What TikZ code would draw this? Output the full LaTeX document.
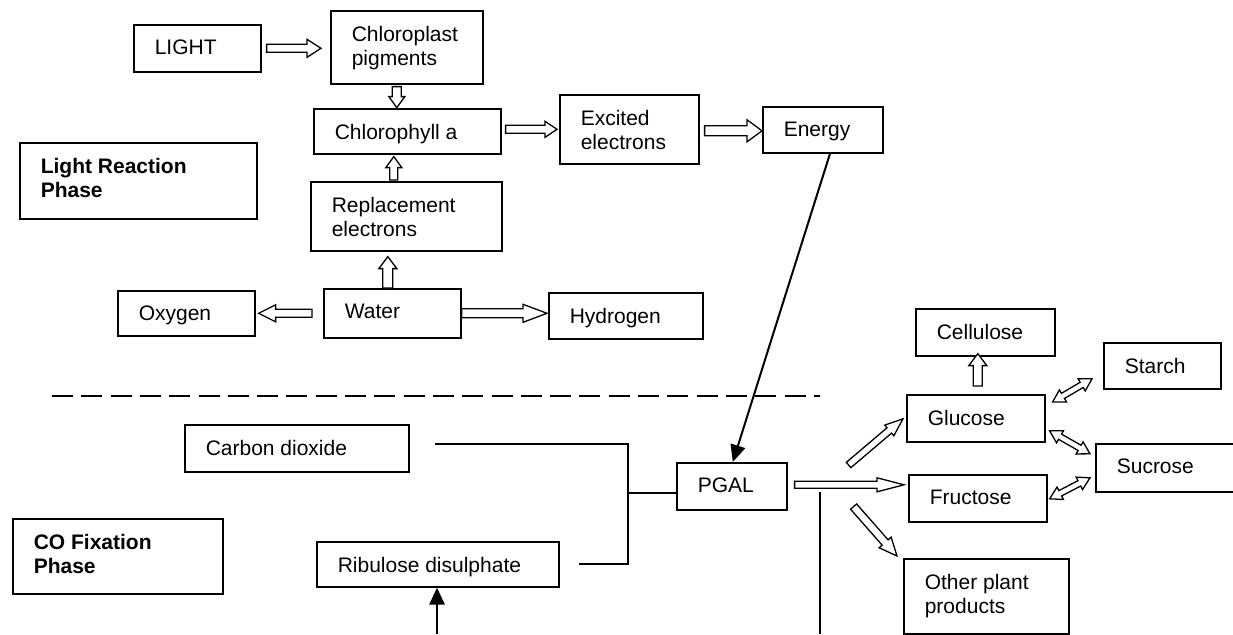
\documentclass[tikz,border=0pt]{standalone}
\usepackage{fontspec}
\setmainfont{Liberation Sans}
\usetikzlibrary{calc,arrows.meta}

\tikzset{
  box/.style={draw, line width=1.6pt, anchor=north west, inner xsep=21pt, inner ysep=0pt,
    font=\fontsize{21}{24}\selectfont},
  boldbox/.style={box, font=\fontsize{21}{24}\selectfont\bfseries},
  hollow/.style={draw, line width=1.3pt, fill=white, line join=miter},
  link/.style={line width=1.8pt},
  dashline/.style={line width=2.8pt, dash pattern=on 21pt off 8.3pt},
  solidarrow/.style={line width=2pt, -{Triangle[length=17pt,width=15pt]}},
}

% \mybox[style]{name}{x}{y}{text}{width}{height}
\newcommand\mybox[7][box]{%
  \node[#1] (#2) at (#3,#4)
    {\parbox[c][#7pt][t]{\dimexpr#6pt-42pt\relax}{\vspace*{15.5pt}\raggedright #5}};}

% \blockarrow{shaft half}{head half}{head length}{start}{end}
\newcommand\blockarrow[5]{%
  \coordinate (hS) at (#4); \coordinate (hT) at (#5);
  \coordinate (hM) at ($(hT)!#3pt!(hS)$);
  \draw[hollow] ($(hS)!#1pt!90:(hT)$) -- ($(hM)!#1pt!-90:(hS)$) -- ($(hM)!#2pt!-90:(hS)$)
    -- (hT) -- ($(hM)!#2pt!90:(hS)$) -- ($(hM)!#1pt!90:(hS)$) -- ($(hS)!#1pt!-90:(hT)$) -- cycle;}

% \dblockarrow{shaft half}{head half}{head length}{start}{end}
\newcommand\dblockarrow[5]{%
  \coordinate (hS) at (#4); \coordinate (hT) at (#5);
  \coordinate (hA) at ($(hS)!#3pt!(hT)$); \coordinate (hB) at ($(hT)!#3pt!(hS)$);
  \draw[hollow] (hS) -- ($(hA)!#2pt!90:(hT)$) -- ($(hA)!#1pt!90:(hT)$) -- ($(hB)!#1pt!-90:(hS)$)
    -- ($(hB)!#2pt!-90:(hS)$) -- (hT) -- ($(hB)!#2pt!90:(hS)$) -- ($(hB)!#1pt!90:(hS)$)
    -- ($(hA)!#1pt!-90:(hT)$) -- ($(hA)!#2pt!-90:(hT)$) -- cycle;}

\begin{document}
\begin{tikzpicture}[x=1pt,y=-1pt]
\useasboundingbox (0,0) rectangle (1233,634);
\fill[white] (0,0) rectangle (1233,634);

% ---- boxes ----
\mybox{light}{133}{24}{LIGHT}{127}{47}
\mybox{chloro}{330}{10}{Chloroplast\\pigments}{152}{73}
\mybox{chla}{313}{108}{Chlorophyll a}{187}{45}
\mybox{excited}{559}{94}{Excited\\electrons}{139}{69}
\mybox{energy}{762}{106}{Energy}{120}{46}
\mybox[boldbox]{lrp}{19}{142}{Light Reaction\\Phase}{237}{76}
\mybox{repl}{310}{181}{Replacement\\electrons}{191}{69}
\mybox{oxygen}{117}{290}{Oxygen}{137}{45}
\mybox{water}{323}{288}{Water}{137}{49}
\mybox{hydrogen}{548}{292}{Hydrogen}{154}{46}
\mybox{cellulose}{915}{308}{Cellulose}{139}{47}
\mybox{starch}{1103}{342}{Starch}{117}{46}
\mybox{glucose}{906}{394}{Glucose}{138}{47}
\mybox{sucrose}{1095}{443}{Sucrose}{140}{48}
\mybox{fructose}{908}{474}{Fructose}{138}{47}
\mybox{other}{903}{558}{Other plant\\products}{165}{75}
\mybox{pgal}{676}{462}{PGAL}{110}{47}
\mybox{carbon}{184}{424}{Carbon dioxide}{224}{47}
\mybox{ribulose}{316}{541}{Ribulose disulphate}{242}{45}
\mybox[boldbox]{cofix}{12}{518}{CO Fixation\\Phase}{210}{75}

% ---- hollow block arrows ----
\blockarrow{4}{9}{14}{$(light.east)+(5,0)$}{$(light.east -| chloro.west)+(-9,0)$}
\blockarrow{4.5}{8}{11}{$(chloro.south)+(-10,2)$}{$(chloro.south)+(-10,23)$}
\blockarrow{4}{8}{11}{$(repl.north)+(-12.5,-1)$}{$(chla.south)+(-13.5,2)$}
\blockarrow{5}{9}{12}{$(water.north)+(-4.5,0)$}{$(repl.south)+(-18.5,5)$}
\blockarrow{4}{8.5}{17}{$(water.west)+(-11,0)$}{$(oxygen.east)+(3,0)$}
\blockarrow{4.5}{9}{24}{water.east}{$(water.east -| hydrogen.west)+(-1,0)$}
\blockarrow{4}{8}{12}{$(chla.east)+(4,-2)$}{$(chla.east -| excited.west)+(-2,-2)$}
\blockarrow{5}{11}{15}{$(excited.east)+(5,1.5)$}{$(excited.east -| energy.west)+(0,1.5)$}
\blockarrow{3.5}{7}{18}{$(pgal.north east)+(61,3)$}{$(glucose.west)+(-3,0.5)$}
\blockarrow{3.5}{7}{27}{$(pgal.east)+(7,-1.5)$}{$(pgal.east -| fructose.west)+(-4,-1.5)$}
\blockarrow{4}{8}{18}{$(pgal.south east)+(66,-4)$}{$(other.north west)+(-6,-2)$}
\blockarrow{4.5}{9}{12}{$(glucose.north)+(2,-8)$}{$(cellulose.south)+(-7.5,-3)$}
\dblockarrow{3}{7}{12}{$(glucose.north east)+(7,8)$}{$(starch.west)+(-11,13)$}
\dblockarrow{3}{7}{12}{$(glucose.east)+(4,12.5)$}{$(sucrose.west)+(-5,-14)$}
\dblockarrow{3}{7}{12}{$(fructose.east)+(2,0.5)$}{$(sucrose.west)+(-5,10)$}

% ---- solid connectors ----
\draw[solidarrow] ($(energy.south west)+(68,0)$) -- ($(pgal.north)+(1,0)$);
\coordinate (rbot) at (437,634);
\draw[solidarrow, line width=2.8pt] (rbot) -- (rbot |- ribulose.south);

\coordinate (cofree) at (435,444);
\coordinate (rufree) at (579,564);
\coordinate (jt) at (628,444);
\coordinate (jb) at (628,564);
\coordinate (jm) at (628,493);
\draw[link] (cofree) -- (jt) -- (jb) -- (rufree);
\draw[link] (jm) -- (jm -| pgal.west);

\coordinate (vtop) at (820,492);
\coordinate (vbot) at (820,634);
\draw[link] (vtop) -- (vbot);

% ---- phase divider ----
\coordinate (dl) at (52,396);
\coordinate (dr) at (820,396);
\draw[dashline] (dl) -- (dr);
\end{tikzpicture}
\end{document}
